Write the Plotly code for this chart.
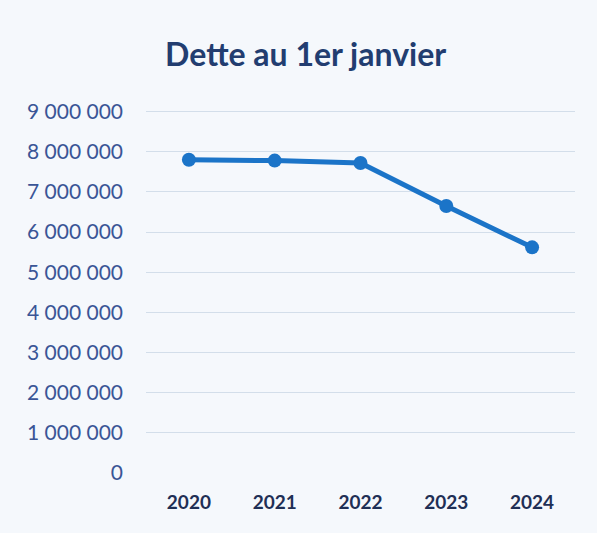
import plotly.graph_objects as go

years = ["2020", "2021", "2022", "2023", "2024"]
dette = [7800000, 7780000, 7720000, 6650000, 5620000]
tick_vals = [0, 1000000, 2000000, 3000000, 4000000, 5000000, 6000000, 7000000, 8000000, 9000000]
tick_text = ["0", "1 000 000", "2 000 000", "3 000 000", "4 000 000", "5 000 000",
             "6 000 000", "7 000 000", "8 000 000", "9 000 000"]

fig = go.Figure()
fig.add_trace(go.Scatter(
    x=years, y=dette, mode="lines+markers",
    line=dict(color="#1b74c8", width=5),
    marker=dict(color="#1b74c8", size=14),
    showlegend=False,
))

fig.update_layout(
    width=597, height=533,
    paper_bgcolor="#f5f8fc", plot_bgcolor="#f5f8fc",
    margin=dict(l=146, r=22, t=110, b=60),
    title=dict(text="<b>Dette au 1er janvier</b>", x=0.512, xanchor="center",
               y=0.897, yanchor="middle",
               font=dict(family="Lato", size=32, color="#223d70")),
    font=dict(family="Lato"),
)
fig.update_xaxes(
    type="category", range=[-0.5, 4.5], showgrid=False, showline=False, zeroline=False,
    tickfont=dict(family="Lato", size=19, color="#1f2f55"), ticklabelstandoff=16,
    tickprefix="<b>", ticksuffix="</b>",
)
fig.update_yaxes(
    range=[0, 9040000], tickvals=tick_vals, ticktext=tick_text,
    showgrid=True, gridcolor="#d3deea", gridwidth=1, zeroline=False, showline=False,
    tickfont=dict(family="Lato", size=21, color="#3a5596"), ticklabelstandoff=22,
)

fig.write_html("out.html", config={"displayModeBar": False},
               post_script="document.body.style.margin='0';")
